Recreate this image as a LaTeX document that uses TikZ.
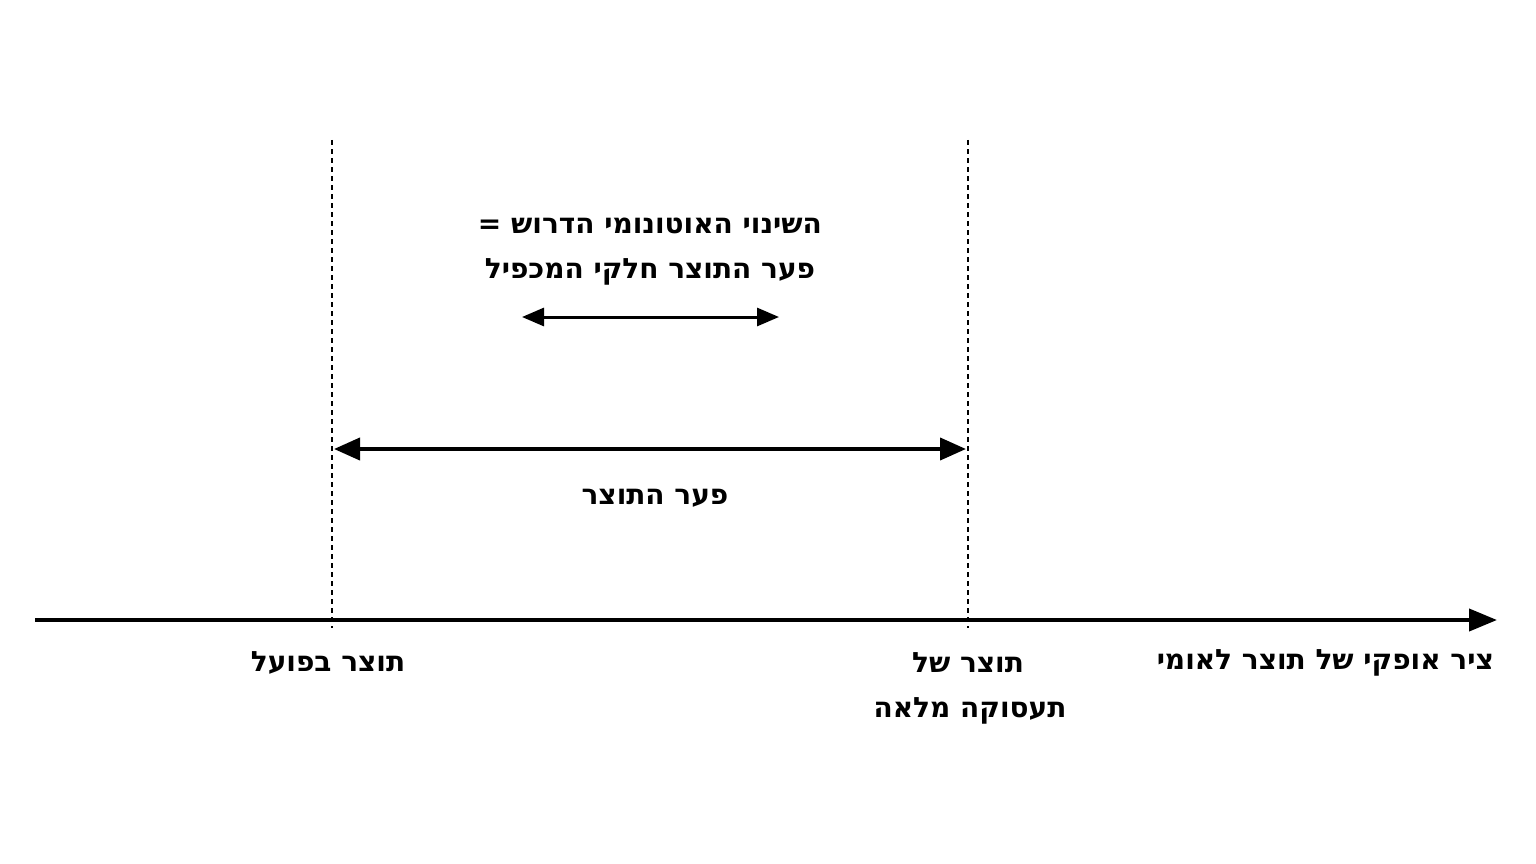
\documentclass[tikz,border=0pt]{standalone}
\usepackage{fontspec}
\setmainfont{DejaVu Sans}
\usetikzlibrary{arrows.meta}
\begin{document}
\tikzset{every picture/.style={line width=0.75pt}}
\tikzset{lbl/.style={inner sep=0.75pt,font=\fontsize{28}{34}\selectfont\bfseries}}
\begin{tikzpicture}[x=1pt,y=1pt,yscale=-1,xscale=1]
	\useasboundingbox (0,0) rectangle (1536,864);

	%Axis
	\coordinate (axL) at (35,620);
	\coordinate (axR) at (1497,620);
	\draw [line width=4, -{Triangle[length=28,width=22]}] (axL) -- (axR) ;
	%Dashed guides
	\coordinate (gAt) at (332,140);
	\coordinate (gAb) at (332,628);
	\coordinate (gBt) at (968,140);
	\coordinate (gBb) at (968,628);
	\draw [line width=2, dash pattern={on 5pt off 4pt}] (gAt) -- (gAb) ;
	\draw [line width=2, dash pattern={on 5pt off 4pt}] (gBt) -- (gBb) ;
	%Gap arrow
	\coordinate (gapL) at (334,449);
	\coordinate (gapR) at (966,449);
	\draw [line width=4, {Triangle[length=26,width=22]}-{Triangle[length=26,width=22]}] (gapL) -- (gapR) ;
	%Change arrow
	\coordinate (chL) at (522,317);
	\coordinate (chR) at (779,317);
	\draw [line width=3, {Triangle[length=22,width=18]}-{Triangle[length=22,width=18]}] (chL) -- (chR) ;

	% Text Node
	\node [lbl] (chgA) at (650,226) {= הדרוש האוטונומי השינוי};
	% Text Node
	\node [lbl] (chgB) at (650,272) {המכפיל חלקי התוצר פער};
	% Text Node
	\node [lbl] (gap) at (655,498) {התוצר פער};
	% Text Node
	\node [lbl] (actual) at (328,663) {בפועל תוצר};
	% Text Node
	\node [lbl] (fullA) at (968,663) {של תוצר};
	% Text Node
	\node [lbl] (fullB) at (970,711) {מלאה תעסוקה};
	% Text Node
	\node [lbl, anchor=east] (axis) at (1495,663) {לאומי תוצר של אופקי ציר};
\end{tikzpicture}
\end{document}
